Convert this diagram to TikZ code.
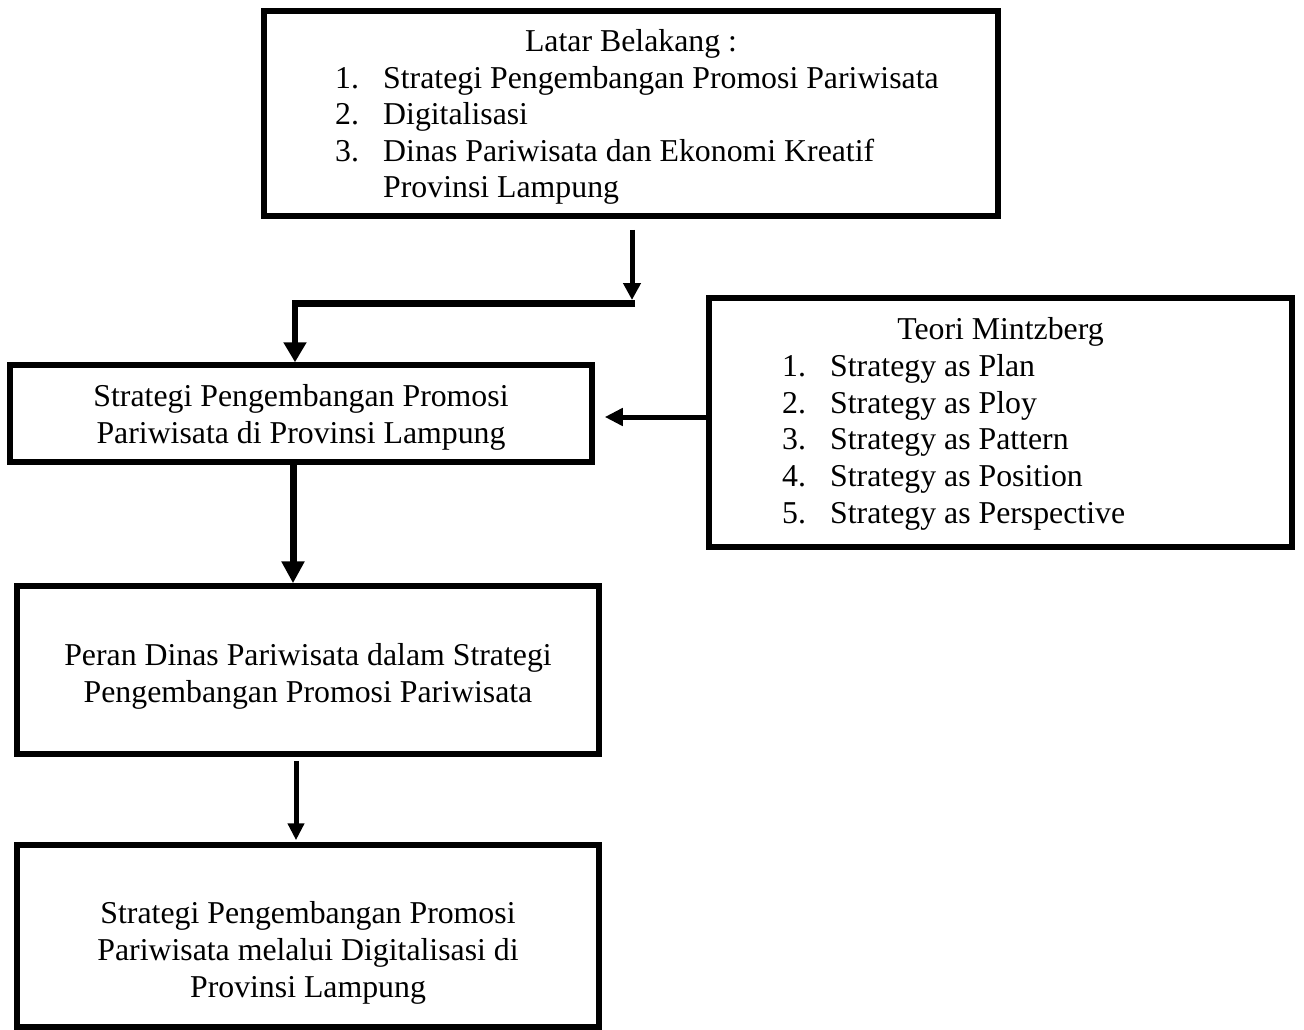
\documentclass[tikz,border=0pt]{standalone}
\usepackage{fontspec}
\setmainfont{Liberation Serif}
\usetikzlibrary{arrows.meta}
\begin{document}
\begin{tikzpicture}[x=1pt,y=-1pt,
  box/.style={draw, line width=5.5pt, rectangle, inner sep=0pt},
  ln/.style={inner sep=0pt, anchor=base, font=\fontsize{31.8pt}{36pt}\selectfont},
  lw/.style={ln, anchor=base west},
  conn/.style={line width=#1, line join=miter},
]
\fill[white] (0,0) rectangle (1304,1030);
\useasboundingbox (0,0) rectangle (1304,1030);

% boxes
\node[box, minimum width=734pt, minimum height=205pt] (bg) at (631,113.5) {};
\node[box, minimum width=582pt, minimum height=97pt] (strat) at (301,413.5) {};
\node[box, minimum width=583pt, minimum height=249pt] (teori) at (1000.5,422.5) {};
\node[box, minimum width=582pt, minimum height=168pt] (peran) at (308,670) {};
\node[box, minimum width=582pt, minimum height=182pt] (hasil) at (308,936) {};

% texts: top box
\node[ln] (bgT) at (631,52) {Latar Belakang :};
\node[lw] (bgn1) at (335,89) {1.};
\node[lw] (bgi1) at (383,89) {Strategi Pengembangan Promosi Pariwisata};
\node[lw] (bgn2) at (335,125) {2.};
\node[lw] (bgi2) at (383,125) {Digitalisasi};
\node[lw] (bgn3) at (335,161) {3.};
\node[lw] (bgi3) at (383,161) {Dinas Pariwisata dan Ekonomi Kreatif};
\node[lw] (bgi3b) at (383,197) {Provinsi Lampung};

% texts: Teori box
\node[ln] (thT) at (1000.5,339) {Teori Mintzberg};
\node[lw] (thn1) at (782,376) {1.};
\node[lw] (thi1) at (830,376) {Strategy as Plan};
\node[lw] (thn2) at (782,413) {2.};
\node[lw] (thi2) at (830,413) {Strategy as Ploy};
\node[lw] (thn3) at (782,449) {3.};
\node[lw] (thi3) at (830,449) {Strategy as Pattern};
\node[lw] (thn4) at (782,486) {4.};
\node[lw] (thi4) at (830,486) {Strategy as Position};
\node[lw] (thn5) at (782,523) {5.};
\node[lw] (thi5) at (830,523) {Strategy as Perspective};

% texts: other boxes
\node[ln] (st1) at (301,406) {Strategi Pengembangan Promosi};
\node[ln] (st2) at (301,443) {Pariwisata di Provinsi Lampung};
\node[ln] (pr1) at (308,665) {Peran Dinas Pariwisata dalam Strategi};
\node[ln] (pr2) at (308,702) {Pengembangan Promosi Pariwisata};
\node[ln] (hs1) at (308,923) {Strategi Pengembangan Promosi};
\node[ln] (hs2) at (308,960) {Pariwisata melalui Digitalisasi di};
\node[ln] (hs3) at (308,997) {Provinsi Lampung};

% connectors
\coordinate (j) at (632,303.5);
\draw[conn=5pt, -{Triangle[length=17pt,width=17pt]}, shorten <=11pt]
  (bg.south -| j) -- ([yshift=3.5pt]j);
\draw[conn=6.5pt, -{Triangle[length=20pt,width=22pt]}]
  ([xshift=3pt]j) -| (strat.north -| 295,0);
\draw[conn=5pt, -{Triangle[length=18pt,width=17pt]}, shorten >=10pt]
  (teori.west |- 0,417) -- (strat.east |- 0,417);
\draw[conn=7pt, -{Triangle[length=22pt,width=22pt]}]
  (strat.south -| 293,0) -- (peran.north -| 293,0);
\draw[conn=5pt, -{Triangle[length=17pt,width=16pt]}, shorten <=4pt, shorten >=2pt]
  (peran.south -| 296,0) -- (hasil.north -| 296,0);
\end{tikzpicture}
\end{document}
